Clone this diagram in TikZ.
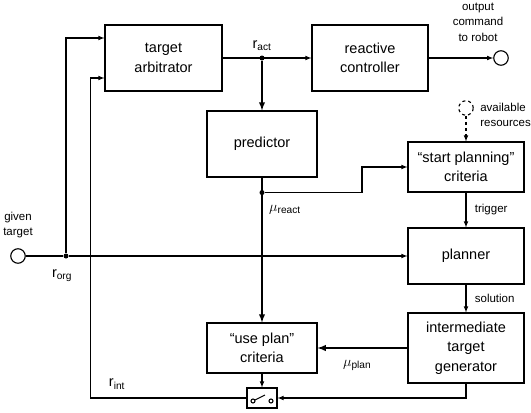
\documentclass[tikz,border=0pt]{standalone}
\usepackage{fontspec}
\setmainfont{Liberation Sans}
\usetikzlibrary{positioning}
\tikzset{>=latex}
\newcommand{\sig}[2]{#1\textsubscript{#2}}

\begin{document}
\begin{tikzpicture}[x=1pt, y=1pt, node distance=90pt, line width=1.1pt,
    block/.style={draw, rectangle, align=center, font=\fontsize{14.5}{19.5}\selectfont},
    lbl/.style={align=center, font=\fontsize{11.5}{15.5}\selectfont},
    sigl/.style={font=\fontsize{14.5}{17}\selectfont},
    port/.style={draw, circle, minimum size=14.5pt, inner sep=0pt},
    jdot/.style={fill, circle, inner sep=0pt, minimum size=5pt},
    heavy/.style={line width=1.8pt}]
    \useasboundingbox (0,0) rectangle (531,-413);

    % Blocks
    \node[block, minimum width=117pt, minimum height=66pt] (arb) at (163.5,-58) {target\\arbitrator};
    \node[block, minimum width=116pt, minimum height=66pt] (ctrl) [right of=arb, xshift=116.5pt] {reactive\\controller};
    \node[block, minimum width=110pt, minimum height=66pt] (pred) [below of=arb, xshift=98.5pt, yshift=4pt] {predictor};
    \node[block, minimum width=116pt, minimum height=50pt] (start) [right of=pred, xshift=114pt, yshift=-23pt] {``start planning''\\criteria};
    \node[block, minimum width=116pt, minimum height=56pt] (plan) [below of=start, yshift=1pt] {planner};
    \node[block, minimum width=116pt, minimum height=70pt] (itg) [below of=plan, yshift=-2pt] {intermediate\\target\\generator};
    \node[block, minimum width=110pt, minimum height=50pt] (use) [left of=itg, xshift=-114pt] {``use plan''\\criteria};
    \node[draw, rectangle, minimum width=30pt, minimum height=20pt] (sw) [below of=use, yshift=40pt] {};

    % Ports and junctions
    \node[port] (given) at (18,-256) {};
    \node[port] (out) [right of=ctrl, xshift=41pt] {};
    \node[port, dashed] (res) [above of=start, yshift=-31pt] {};
    \node[jdot] (ract) at (pred.north |- arb.east) {};
    \node[jdot] (org) at (66,-256) {};
    \node[jdot] (mur) at ([yshift=-15pt]pred.south) {};

    % Texts
    \node[lbl] (gtxt) [above of=given, yshift=-59pt] {given\\target};
    \node[lbl] (otxt) [above of=out, xshift=-23pt, yshift=-54pt] {output\\command\\to robot};
    \node[lbl, align=left, inner sep=1pt, right=5pt of res, yshift=-7pt] (rtxt) {available\\resources};
    \node[sigl, above=0pt of ract] (racttxt) {\sig{r}{act}};
    \node[sigl, below=7pt of org, xshift=-4pt] (orgtxt) {\sig{r}{org}};

    % Switch
    \draw ([shift={(-9,-3)}]sw.center) circle (2);
    \draw ([shift={(9,-3)}]sw.center) circle (2);
    \draw ([shift={(-7,-2)}]sw.center) -- ([shift={(3,3)}]sw.center);

    % Arrows
    \draw (given) -- (org);
    \draw[->] (org) -- (plan.west);
    \draw[->] (org) |- ([yshift=20pt]arb.west);
    \draw[->] (arb) -- (ctrl);
    \draw[->] (ctrl) -- (out);
    \draw[->, heavy] (ract) -- (pred);
    \draw[->, heavy] (pred) -- node[sigl, right=3pt, pos=0.22] {$\mu$\textsubscript{react}} (use);
    \draw[->] (mur) -- ++(100,0) |- (start.west);
    \draw[->, dashed] (res) -- (start);
    \draw[->] (start) -- node[lbl, right=5pt] {trigger} (plan);
    \draw[->] (plan) -- node[lbl, right=5pt] {solution} (itg);
    \draw[->, heavy] (itg) -- node[sigl, below=8pt, pos=0.56] {$\mu$\textsubscript{plan}} (use);
    \draw[->] (use) -- (sw);
    \draw[->] (itg) |- (sw.east);
    \draw[->] (sw.west) -- node[sigl, above=5pt, pos=0.83] {\sig{r}{int}} ++(-156,0) |- ([yshift=-20pt]arb.west);
\end{tikzpicture}
\end{document}
